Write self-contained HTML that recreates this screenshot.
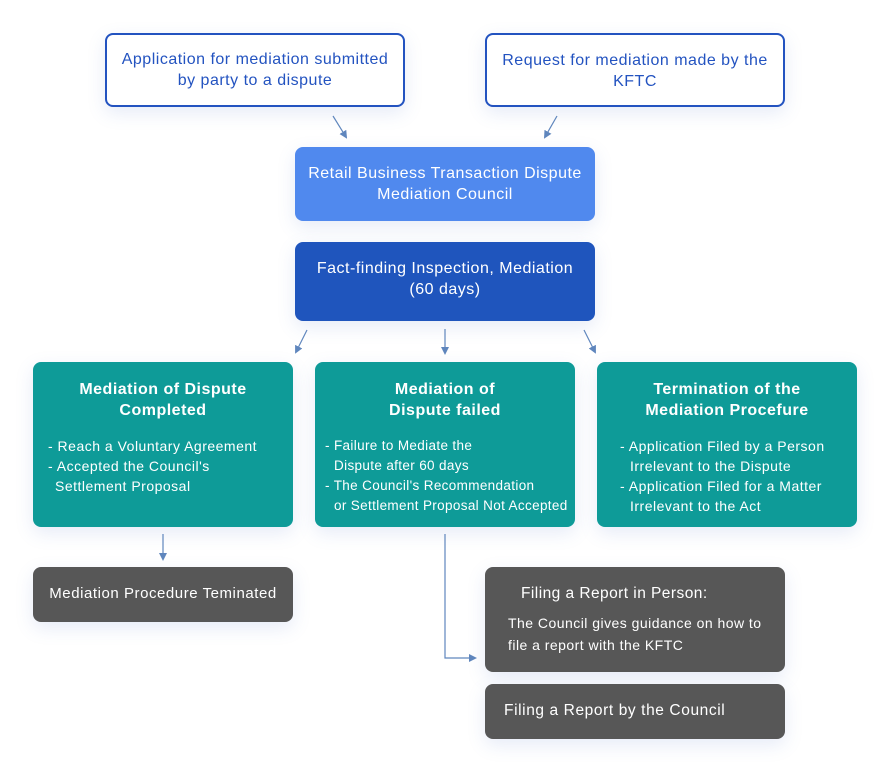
<!DOCTYPE html>
<html><head><meta charset="utf-8"><style>
body{margin:0;width:890px;height:772px;background:#fff;font-family:"Liberation Sans",sans-serif;position:relative;overflow:hidden;letter-spacing:.5px}
.b{position:absolute;box-sizing:border-box;border-radius:8px;box-shadow:0 6px 18px rgba(90,120,200,.15)}
.t{position:absolute;left:0;right:0;text-align:center;white-space:nowrap}
.l{position:absolute;white-space:nowrap}
.ob{border:2px solid #2353c0;background:#fff;color:#2353c0;font-size:16px}
.w{color:#fff}
.teal{background:#0e9b98;color:#fff}
.gray{background:#575757;color:#fff}
.h{font-weight:bold;font-size:16px}
.s{font-size:14px}
</style></head><body>
<div class="b ob" style="left:105px;top:33px;width:300px;height:74px"><div class="t" style="top:16px">Application for mediation submitted</div><div class="t" style="top:37px">by party to a dispute</div></div>
<div class="b ob" style="left:485px;top:33px;width:300px;height:74px"><div class="t" style="top:17px">Request for mediation made by the</div><div class="t" style="top:38px">KFTC</div></div>
<div class="b w" style="left:295px;top:147px;width:300px;height:74px;background:#5089ee;font-size:16px"><div class="t" style="top:18px">Retail Business Transaction Dispute</div><div class="t" style="top:39px">Mediation Council</div></div>
<div class="b w" style="left:295px;top:242px;width:300px;height:79px;background:#1f55bd;font-size:16px"><div class="t" style="top:18px">Fact-finding Inspection, Mediation</div><div class="t" style="top:39px">(60 days)</div></div>

<div class="b teal" style="left:33px;top:362px;width:260px;height:165px">
<div class="t h" style="top:19px">Mediation of Dispute</div><div class="t h" style="top:40px">Completed</div>
<div class="l s" style="left:15px;top:76px">- Reach a Voluntary Agreement</div>
<div class="l s" style="left:15px;top:96px">- Accepted the Council's</div>
<div class="l s" style="left:22px;top:116px">Settlement Proposal</div></div>

<div class="b teal" style="left:315px;top:362px;width:260px;height:165px">
<div class="t h" style="top:19px">Mediation of</div><div class="t h" style="top:40px">Dispute failed</div>
<div class="l s" style="left:10px;top:76px;font-size:13.5px;letter-spacing:.35px">- Failure to Mediate the</div>
<div class="l s" style="left:19px;top:96px;font-size:13.5px;letter-spacing:.35px">Dispute after 60 days</div>
<div class="l s" style="left:10px;top:116px;font-size:13.5px;letter-spacing:.35px">- The Council's Recommendation</div>
<div class="l s" style="left:19px;top:136px;font-size:13.5px;letter-spacing:.35px">or Settlement Proposal Not Accepted</div></div>

<div class="b teal" style="left:597px;top:362px;width:260px;height:165px">
<div class="t h" style="top:19px">Termination of the</div><div class="t h" style="top:40px">Mediation Procefure</div>
<div class="l s" style="left:23px;top:76px">- Application Filed by a Person</div>
<div class="l s" style="left:33px;top:96px">Irrelevant to the Dispute</div>
<div class="l s" style="left:23px;top:116px">- Application Filed for a Matter</div>
<div class="l s" style="left:33px;top:136px">Irrelevant to the Act</div></div>

<div class="b gray" style="left:33px;top:567px;width:260px;height:55px;font-size:15px"><div class="t" style="top:18px;letter-spacing:.55px">Mediation Procedure Teminated</div></div>
<div class="b gray" style="left:485px;top:567px;width:300px;height:105px">
<div class="l" style="left:36px;top:18px;font-size:15.5px;letter-spacing:.45px">Filing a Report in Person:</div>
<div class="l" style="left:23px;top:48px;font-size:14px;letter-spacing:.47px">The Council gives guidance on how to</div>
<div class="l" style="left:23px;top:70px;font-size:14px;letter-spacing:.47px">file a report with the KFTC</div></div>
<div class="b gray" style="left:485px;top:684px;width:300px;height:55px"><div class="l" style="left:19px;top:18px;font-size:15.5px;letter-spacing:.6px">Filing a Report by the Council</div></div>

<svg width="890" height="772" style="position:absolute;left:0;top:0">
<defs><marker id="a" markerWidth="8" markerHeight="8" refX="6" refY="4" orient="auto" markerUnits="userSpaceOnUse"><path d="M0,0 L8,4 L0,8 z" fill="#5f86bd"/></marker></defs>
<g stroke="#5f86bd" stroke-width="1.2" fill="none" marker-end="url(#a)">
<line x1="333" y1="116" x2="346" y2="137"/>
<line x1="557" y1="116" x2="545" y2="137"/>
<line x1="307" y1="330" x2="296" y2="352"/>
<line x1="445" y1="329" x2="445" y2="353"/>
<line x1="584" y1="330" x2="595" y2="352"/>
<line x1="163" y1="534" x2="163" y2="559"/>
<polyline points="445,534 445,658 475,658"/>
</g></svg>
</body></html>
